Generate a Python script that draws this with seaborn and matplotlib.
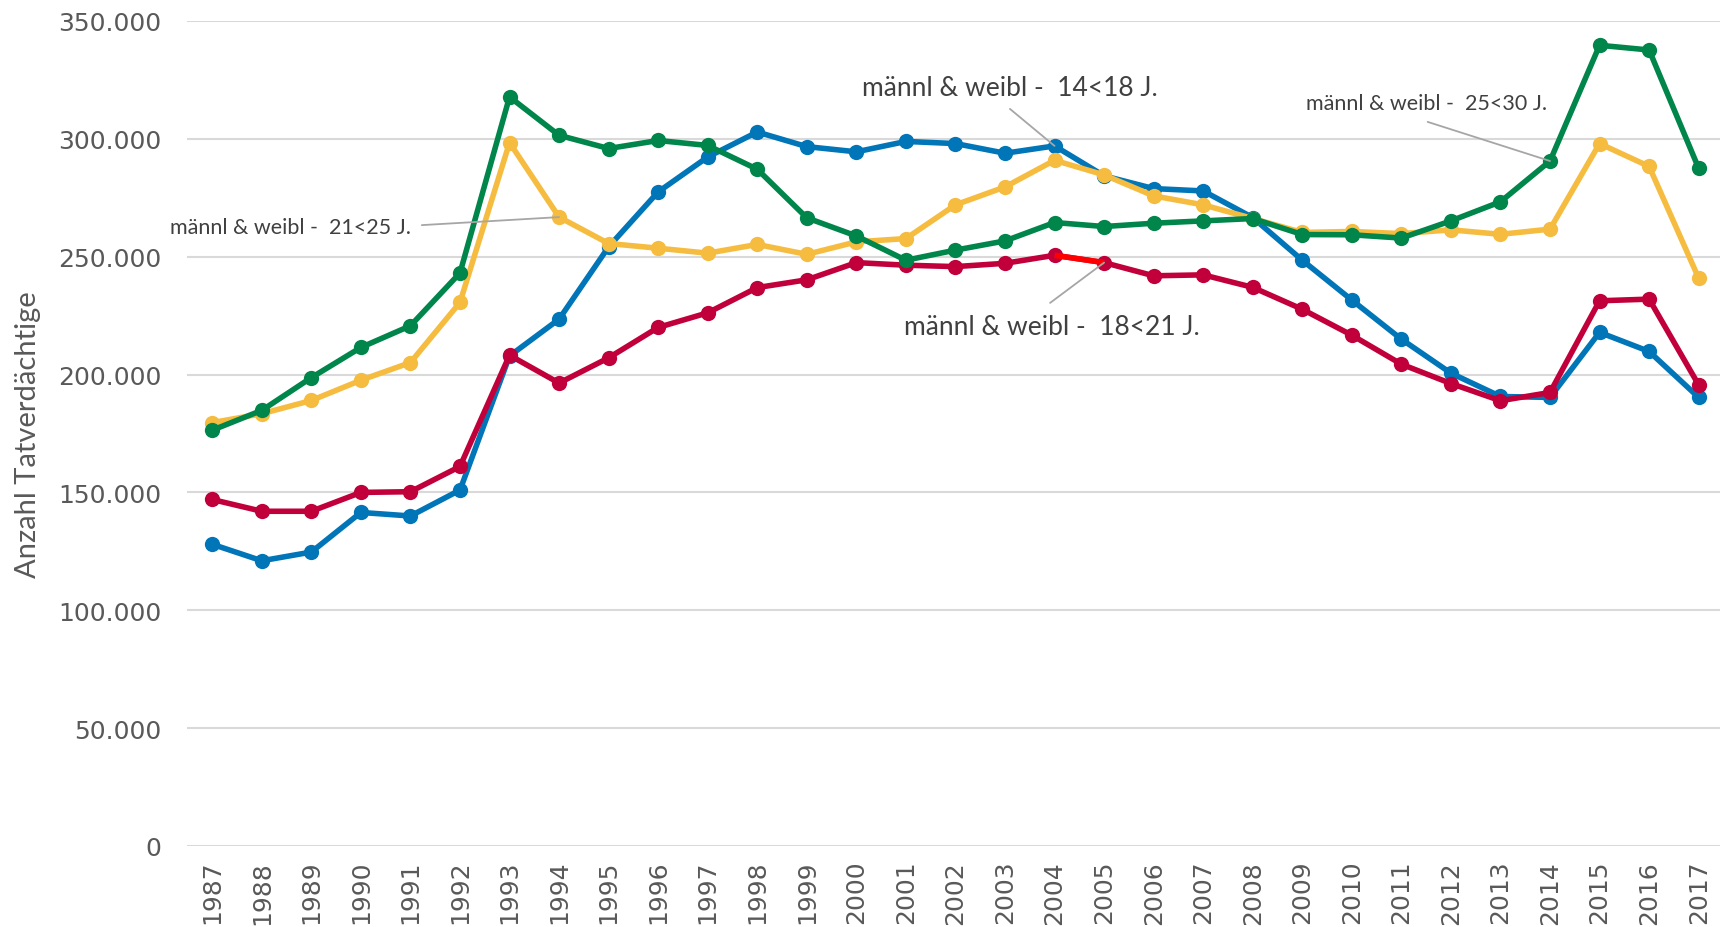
import numpy as np
import pandas as pd
import matplotlib
matplotlib.use("Agg")
import matplotlib.pyplot as plt
import seaborn as sns

sns.set_theme(style="white")
plt.rcParams['font.family'] = ['DejaVu Sans']

# --- data ---
years = list(range(1987, 2018))

age_14_18 = [128000, 121000, 124700, 141500, 140000, 151000, 207900, 223500, 254200, 277500,
             292300, 302900, 296700, 294500, 298900, 298000, 293900, 297000, 284300, 278900,
             277900, 266600, 248500, 231600, 215000, 200600, 190700, 190300, 217900, 209800,
             190300]
age_18_21 = [147000, 142000, 142000, 150000, 150300, 161000, 208200, 196400, 207100, 220000,
             226200, 236900, 240200, 247500, 246400, 245800, 247200, 250600, 247500, 241900,
             242300, 237000, 227700, 216700, 204400, 196200, 188900, 192400, 231300, 232000,
             195600]
age_21_25 = [179600, 183400, 189000, 197600, 205100, 230600, 298400, 266800, 255600, 253600,
             251500, 255200, 251000, 256300, 257700, 272000, 279600, 290900, 284700, 275800,
             272000, 266200, 260300, 260700, 259800, 261400, 259500, 261700, 298000, 288300,
             240900]
age_25_30 = [176400, 184800, 198700, 211500, 220700, 243100, 317800, 301500, 295900, 299300,
             297200, 287100, 266500, 258800, 248500, 252800, 256700, 264500, 262800, 264200,
             265200, 266200, 259400, 259300, 257900, 265200, 273300, 290600, 339700, 337700,
             287500]

series_names = ["14<18 J.", "18<21 J.", "21<25 J.", "25<30 J."]
series_values = [age_14_18, age_18_21, age_21_25, age_25_30]
colors = ["#0075B7", "#C1003B", "#F6BC40", "#00854A"]

df = pd.DataFrame({
    "Jahr": years * 4,
    "Anzahl": sum(series_values, []),
    "Gruppe": sum([[n] * len(years) for n in series_names], []),
})

fig = plt.figure(figsize=(17.2, 9.28), dpi=100)
ax = fig.add_axes([0.109, 0.0873, 0.893, 0.889])

for name, col in zip(series_names, colors):
    sub = df[df["Gruppe"] == name]
    sns.lineplot(data=sub, x="Jahr", y="Anzahl", color=col, linewidth=4,
                 marker="o", markersize=11, markeredgewidth=0, ax=ax, zorder=3)

# highlighted segment 2004-2005 in the 18<21 series
i0 = years.index(2004)
ax.plot(years[i0:i0 + 2], age_18_21[i0:i0 + 2], color="#FF0000", linewidth=4,
        solid_capstyle="butt", zorder=3.5)

ax.set_xlim(1986.5, 2017.5)
ax.set_ylim(0, 350000)
ax.set_xticks(years)
ax.set_xticklabels([str(y) for y in years], rotation=90)
yt = np.arange(0, 350001, 50000)
ax.set_yticks(yt)
ax.set_yticklabels([f"{v:,.0f}".replace(",", ".") for v in yt])
ax.tick_params(axis="both", length=0, labelsize=18, labelcolor="#595959")
ax.tick_params(axis="y", pad=19)
ax.tick_params(axis="x", pad=10)
ax.grid(axis="y", color="#D9D9D9", linewidth=1.5)
ax.grid(axis="x", visible=False)
for s in ax.spines.values():
    s.set_visible(False)

ax.set_xlabel("")
ax.set_ylabel("Anzahl Tatverdächtige", fontsize=21, color="#595959",
              family=["Liberation Sans Narrow", "Lato"], labelpad=12)

# annotations
ann_color = "#404040"
line_color = "#A6A6A6"
labels = [
    # text, text center (x, y), size, line start, line end
    ("männl & weibl -  14<18 J.", (2003.1, 321600), 19, (2003.1, 312700), (2004, age_14_18[years.index(2004)])),
    ("männl & weibl -  21<25 J.", (1988.57, 262500), 15.5, (1991.23, 263400), (1994, age_21_25[years.index(1994)])),
    ("männl & weibl -  25<30 J.", (2011.5, 315000), 15.5, (2011.53, 307200), (2014, age_25_30[years.index(2014)])),
    ("männl & weibl -  18<21 J.", (2003.94, 220600), 19, (2003.91, 230400), (2005, age_18_21[years.index(2005)])),
]
for txt, pos, size, start, end in labels:
    ax.text(pos[0], pos[1], txt, ha="center", va="center", fontsize=size,
            color=ann_color, family=["Lato", "DejaVu Sans"], zorder=5)
    ax.annotate("", xy=end, xytext=start,
                arrowprops=dict(arrowstyle="-", color=line_color, lw=1.3,
                                shrinkA=0, shrinkB=0), zorder=4)

legend = ax.get_legend()
if legend is not None:
    legend.remove()

plt.savefig("out.png", dpi=100)
plt.close()
